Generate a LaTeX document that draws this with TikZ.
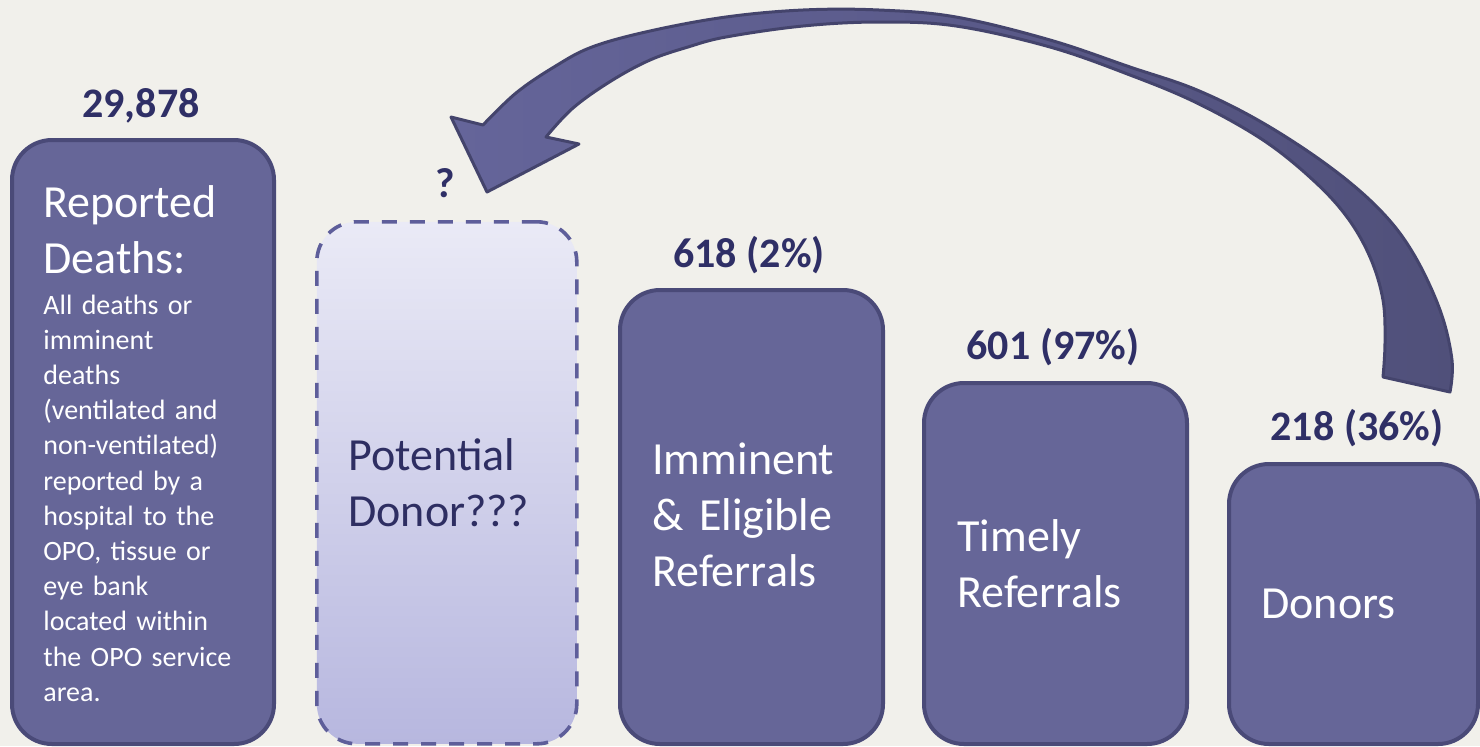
\documentclass[tikz,border=0pt]{standalone}
\usepackage{fontspec}
\setmainfont{Carlito}
\definecolor{bgc}{HTML}{F1F0EB}
\definecolor{boxfill}{HTML}{666698}
\definecolor{boxline}{HTML}{4A4A78}
\definecolor{lbl}{HTML}{2F2F66}
\definecolor{pdtop}{HTML}{EAEAF6}
\definecolor{pdbot}{HTML}{B7B7DF}
\definecolor{pdline}{HTML}{5E5E9A}
\definecolor{pdtext}{HTML}{2E2E62}
\definecolor{arrA}{HTML}{65659A}
\definecolor{arrB}{HTML}{50507A}
\definecolor{arrline}{HTML}{44446C}
\begin{document}
\begin{tikzpicture}[x=0.5pt,y=-0.5pt,
  stagebox/.style={rectangle, draw=boxline, fill=boxfill, line width=2pt, rounded corners=20pt, anchor=north west, inner sep=0pt},
  potbox/.style={rectangle, draw=pdline, top color=pdtop, bottom color=pdbot, line width=1.8pt, dash pattern=on 7.5pt off 6.5pt, rounded corners=20pt, anchor=north west, inner sep=0pt},
  countlbl/.style={font=\fontsize{21}{25}\selectfont\bfseries, text=lbl, anchor=base, inner sep=0pt},
  bigtxt/.style={font=\fontsize{23}{28.2}\selectfont, text=white, anchor=base west, inner sep=0pt, align=left, text width=125pt},
  smalltxt/.style={font=\fontsize{14}{17.6}\selectfont, text=white, anchor=base west, inner sep=0pt, align=left, text width=125pt}
]
\useasboundingbox (0,0) rectangle (1480,746);
\fill[bgc] (0,0) rectangle (1480,746);

% boxes
\node[stagebox, minimum width=131pt, minimum height=302pt] (b1) at (10,138) {};
\node[potbox, minimum width=130pt, minimum height=261pt] (b2) at (315,220) {};
\node[stagebox, minimum width=131.5pt, minimum height=227pt] (b3) at (618,288) {};
\node[stagebox, minimum width=131.5pt, minimum height=180.5pt] (b4) at (922,381) {};
\node[stagebox, minimum width=124.5pt, minimum height=140pt] (b5) at (1227,462) {};

% counts
\node[countlbl] (c1) at (141,117) {29,878};
\node[countlbl] (c2) at (445,197) {?};
\node[countlbl] (c3) at (749,267) {618 (2\%)};
\node[countlbl] (c4) at (1053,359) {601 (97\%)};
\node[countlbl] (c5) at (1357,440) {218 (36\%)};

% box texts
\node[bigtxt] (t1) at (43,217) {Reported\\Deaths:};
\node[smalltxt] (t1b) at (43,314) {All deaths or\\imminent\\deaths\\(ventilated and\\non-ventilated)\\reported by a\\hospital to the\\OPO, tissue or\\eye bank\\located within\\the OPO service\\area.};
\node[bigtxt, text=pdtext] (t2) at (348,470) {Potential\\Donor???};
\node[bigtxt] (t3) at (652,474) {Imminent\\\& Eligible\\Referrals};
\node[bigtxt] (t4) at (957,551) {Timely\\Referrals};
\node[bigtxt] (t5) at (1261,618) {Donors};

% curved block arrow from Donors back to Potential Donor
\path[draw=arrline, line width=1.5pt, line join=round, left color=arrA, right color=arrB]
  (487,192) -- (451,117) -- (483,125)
  -- plot[smooth, tension=0.6] coordinates {(483,125) (516,93) (554,67) (592,47) (650,31) (726,17) (803,10) (879,10) (956,17) (1050,40) (1130,67) (1197,90) (1263,123) (1330,167) (1380,210) (1413,253) (1440,310) (1452,360) (1450,392)}
  -- (1383,377)
  -- plot[smooth, tension=0.6] coordinates {(1383,377) (1385,343) (1383,300) (1370,257) (1347,217) (1313,180) (1263,140) (1197,103) (1130,75) (1050,47) (956,26) (879,22) (803,26) (726,37) (688,47) (650,60) (611,81) (573,108) (546,137)}
  -- (579,144) -- cycle;
\end{tikzpicture}
\end{document}
